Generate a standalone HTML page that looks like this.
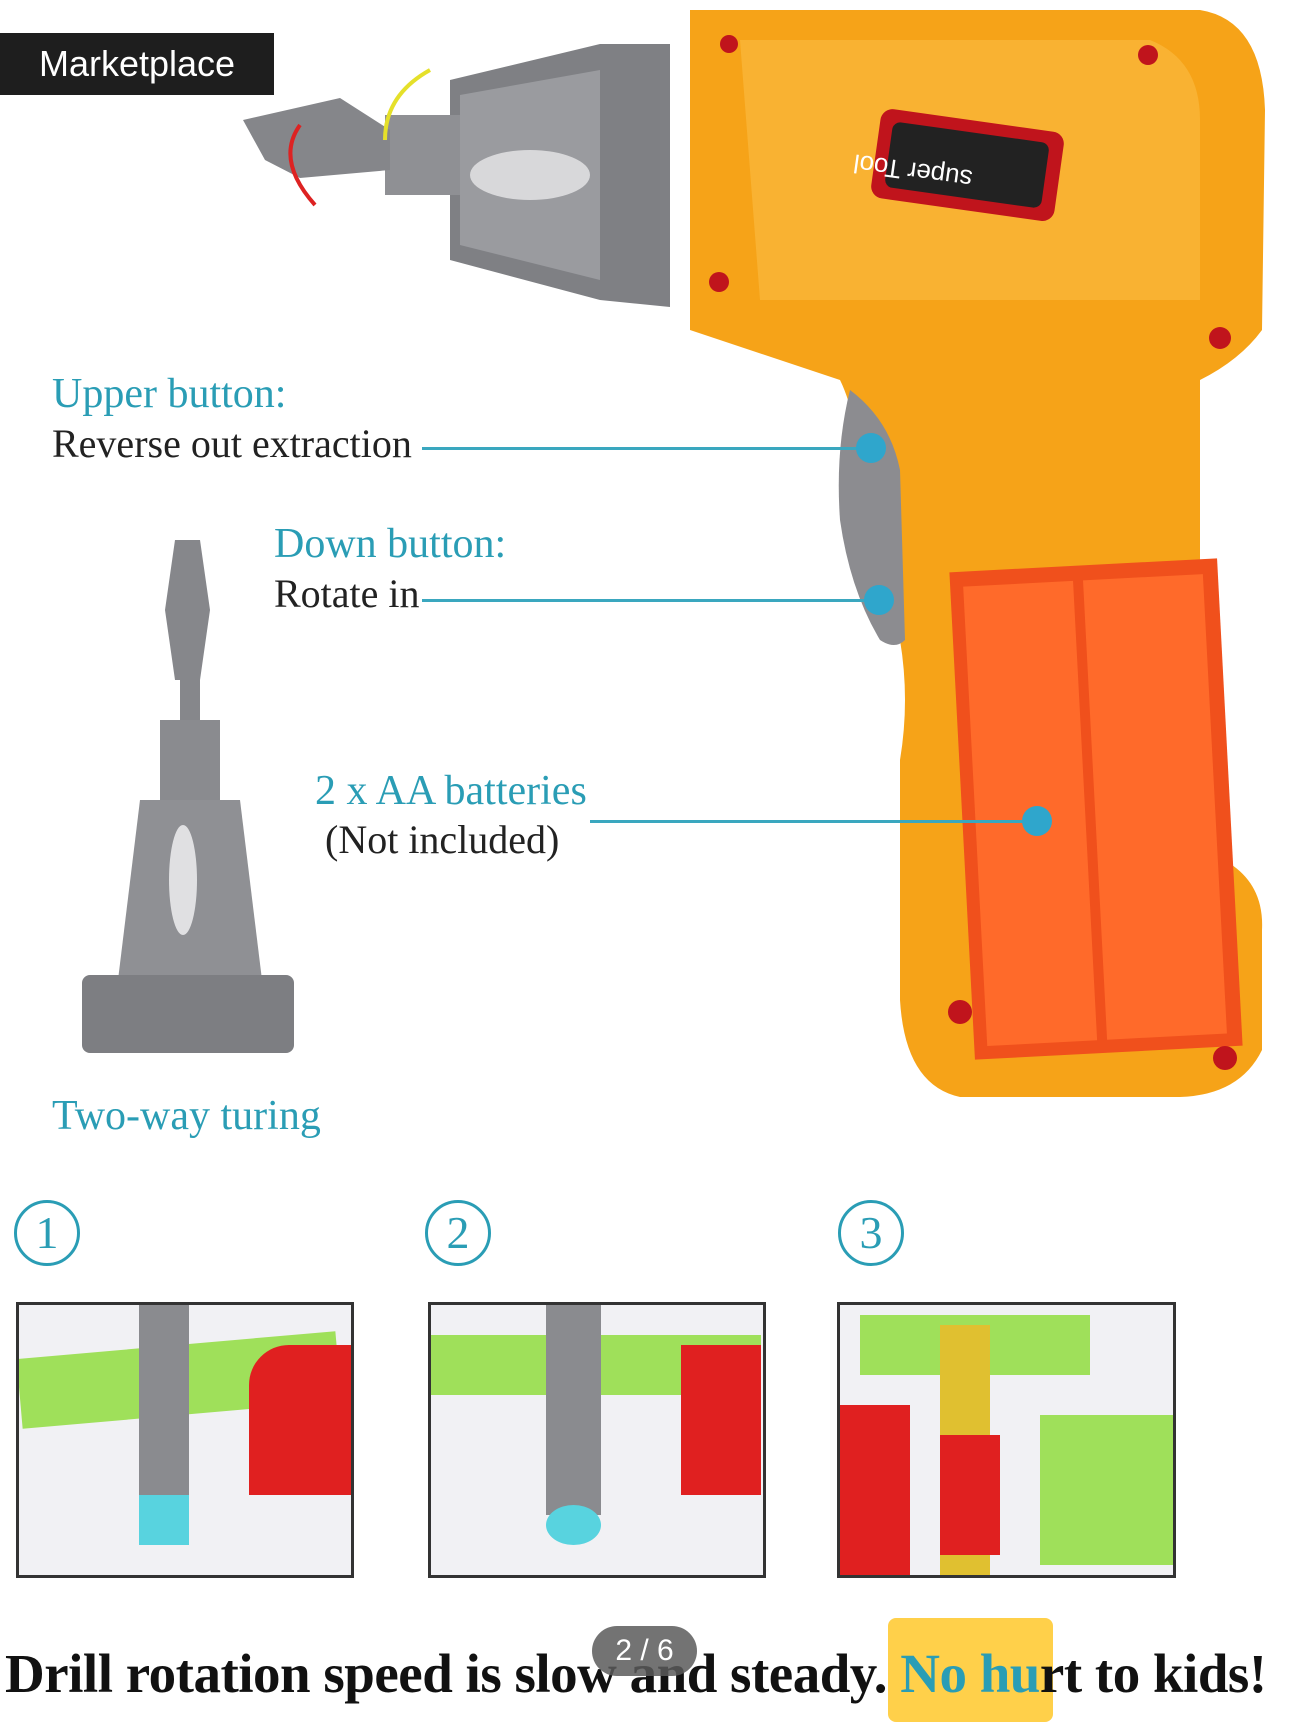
<!DOCTYPE html>
<html><head><meta charset="utf-8"><style>
body{margin:0;width:1290px;height:1722px;background:#fff;position:relative;overflow:hidden;font-family:"Liberation Serif",serif}
.a{position:absolute}
.t{color:#2a9db5;font-size:42px}
.b{color:#222;font-size:40px}
.ln{position:absolute;height:3px;background:#3aa7bf}
.dot{position:absolute;width:30px;height:30px;border-radius:50%;background:#2fa6cc}
.num{position:absolute;width:60px;height:60px;border:3px solid #2a9db5;border-radius:50%;color:#2a9db5;font-size:46px;text-align:center;line-height:60px}
.ph{position:absolute;border:3px solid #333;background:#f1f1f4;overflow:hidden}
</style></head><body>
<svg class="a" style="left:0;top:0" width="1290" height="1722">
 <!-- drill body -->
 <path d="M690 10 L1200 10 Q1262 20 1265 110 L1262 330 Q1240 360 1200 380 L1200 850 Q1265 870 1262 930 L1262 1050 Q1240 1095 1180 1097 L960 1097 Q905 1085 900 1000 L900 760 Q910 700 900 640 L880 560 Q860 420 840 380 L690 330 Z" fill="#f6a318"/>
 <path d="M740 40 L1150 40 Q1200 60 1200 120 L1200 300 L760 300 Z" fill="#f9b232"/>
 <rect x="875" y="120" width="185" height="90" rx="12" fill="#c0141c" transform="rotate(8 967 165)"/>
 <rect x="888" y="132" width="158" height="66" rx="8" fill="#222" transform="rotate(8 967 165)"/>
 <text x="960" y="160" font-size="26" fill="#fff" font-family="Liberation Sans" transform="rotate(188 967 165)">super Tool</text>
 <path d="M850 390 Q890 420 900 470 L905 640 Q895 650 880 640 Q850 590 840 520 Q835 450 850 390Z" fill="#8c8c90"/>
 <rect x="962" y="565" width="268" height="488" fill="#f0501c" transform="rotate(-3 1096 809)"/>
 <rect x="975" y="580" width="110" height="460" fill="#ff6a2a" transform="rotate(-3 1096 809)"/>
 <rect x="1095" y="580" width="120" height="460" fill="#ff6a2a" transform="rotate(-3 1096 809)"/>
 <g fill="#c0141c"><circle cx="729" cy="44" r="9"/><circle cx="1148" cy="55" r="10"/><circle cx="719" cy="282" r="10"/><circle cx="1220" cy="338" r="11"/><circle cx="960" cy="1012" r="12"/><circle cx="1225" cy="1058" r="12"/></g>
 <!-- chuck -->
 <path d="M450 80 L600 44 L670 44 L670 307 L600 300 L450 260 Z" fill="#7f8084"/>
 <path d="M460 95 L600 70 L600 280 L460 245 Z" fill="#9a9b9f"/>
 <ellipse cx="530" cy="175" rx="60" ry="25" fill="#d8d8da"/>
 <rect x="385" y="115" width="75" height="80" fill="#8f9094"/>
 <path d="M243 120 L340 98 L390 130 L390 170 L300 178 L265 160 Z" fill="#85868a"/>
 <path d="M300 125 Q275 160 315 205" stroke="#d22" stroke-width="4" fill="none"/>
 <path d="M430 70 Q385 95 385 140" stroke="#e5e02a" stroke-width="4" fill="none"/>
 <!-- bit illustration -->
 <path d="M175 540 L200 540 L210 610 L200 680 L175 680 L165 610 Z" fill="#86878b"/>
 <rect x="180" y="675" width="20" height="45" fill="#86878b"/>
 <rect x="160" y="720" width="60" height="80" fill="#8a8b8f"/>
 <path d="M140 800 L240 800 L262 980 L118 980 Z" fill="#8f9094"/>
 <ellipse cx="183" cy="880" rx="14" ry="55" fill="#e0e0e2"/>
 <rect x="82" y="975" width="212" height="78" rx="8" fill="#7d7e82"/>
</svg>
<div class="a" style="left:0;top:33px;width:274px;height:62px;background:#1e1e1e;color:#fff;font:36px 'Liberation Sans',sans-serif;line-height:62px;text-align:center">Marketplace</div>
<div class="a t" style="left:52px;top:370px">Upper button:</div>
<div class="a b" style="left:52px;top:420px">Reverse out extraction</div>
<div class="ln" style="left:422px;top:447px;width:450px"></div><div class="dot" style="left:856px;top:433px"></div>
<div class="a t" style="left:274px;top:520px">Down button:</div>
<div class="a b" style="left:274px;top:570px">Rotate in</div>
<div class="ln" style="left:422px;top:599px;width:456px"></div><div class="dot" style="left:864px;top:585px"></div>
<div class="a t" style="left:315px;top:767px">2 x AA batteries</div>
<div class="a b" style="left:325px;top:816px">(Not included)</div>
<div class="ln" style="left:590px;top:820px;width:450px"></div><div class="dot" style="left:1022px;top:806px"></div>
<div class="a t" style="left:52px;top:1092px">Two-way turing</div>
<div class="num" style="left:14px;top:1200px">1</div>
<div class="num" style="left:425px;top:1200px">2</div>
<div class="num" style="left:838px;top:1200px">3</div>
<div class="ph" style="left:16px;top:1302px;width:332px;height:270px"><div class="a" style="left:0;top:40px;width:320px;height:70px;background:#9fe05a;transform:rotate(-5deg)"></div><div class="a" style="left:230px;top:40px;width:110px;height:150px;background:#e02020;border-radius:40px 0 0 0"></div><div class="a" style="left:120px;top:0;width:50px;height:200px;background:#8a8b8f"></div><div class="a" style="left:120px;top:190px;width:50px;height:50px;background:#58d3df"></div></div>
<div class="ph" style="left:428px;top:1302px;width:332px;height:270px"><div class="a" style="left:0;top:30px;width:330px;height:60px;background:#9fe05a"></div><div class="a" style="left:250px;top:40px;width:80px;height:150px;background:#e02020"></div><div class="a" style="left:115px;top:0;width:55px;height:210px;background:#8a8b8f"></div><div class="a" style="left:115px;top:200px;width:55px;height:40px;background:#58d3df;border-radius:50%"></div></div>
<div class="ph" style="left:837px;top:1302px;width:333px;height:270px"><div class="a" style="left:20px;top:10px;width:230px;height:60px;background:#9fe05a"></div><div class="a" style="left:100px;top:20px;width:50px;height:250px;background:#e0c030"></div><div class="a" style="left:100px;top:130px;width:60px;height:120px;background:#e02020"></div><div class="a" style="left:0;top:100px;width:70px;height:170px;background:#e02020"></div><div class="a" style="left:200px;top:110px;width:133px;height:150px;background:#9fe05a"></div></div>
<div class="a" style="left:888px;top:1618px;width:165px;height:104px;background:#ffd04a;border-radius:8px"></div>
<div class="a" style="left:5px;top:1642px;white-space:nowrap;font-weight:bold;font-size:55px;color:#111;letter-spacing:-0.5px">Drill rotation speed is slow and steady. <span style="color:#2a9db5">No hu</span>rt to kids!</div>
<div class="a" style="left:592px;top:1626px;width:105px;height:50px;border-radius:25px;background:rgba(90,90,90,.85);color:#fff;font:30px 'Liberation Sans',sans-serif;text-align:center;line-height:50px">2 / 6</div>
</body></html>
